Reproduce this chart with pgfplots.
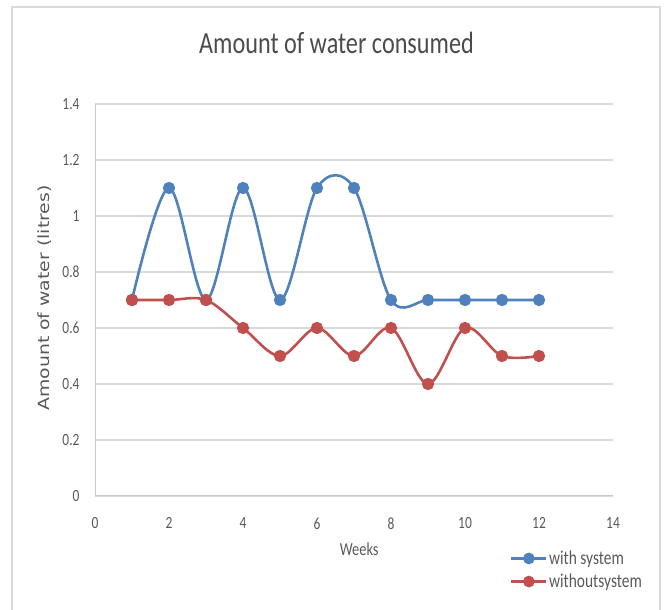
\documentclass[border=0pt]{standalone}
\usepackage{pgfplots}
\pgfplotsset{compat=1.18}
\usepackage{fontspec}
\setmainfont{Carlito}
\newfontfamily\ylabfont{DejaVu Sans}
\definecolor{blueS}{HTML}{4F81BD}
\definecolor{redS}{HTML}{C0504D}
\definecolor{txt}{HTML}{595959}
\definecolor{gridc}{HTML}{D9D9D9}
\newcommand{\vs}[1]{\scalebox{1}[1.27]{#1}}
\begin{document}
\begin{tikzpicture}[x=1bp,y=1bp]
\path[use as bounding box] (-95,-114) rectangle (569,496);
\draw[gridc, line width=1.2bp] (-83,-120) -- (-83,489) -- (565,489) -- (565,-120);
\begin{axis}[
  at={(0,0)}, anchor=south west,
  scale only axis, width=518bp, height=392bp,
  xmin=0, xmax=14, ymin=0, ymax=1.4,
  xtick={0,2,...,14}, ytick={0,0.2,...,1.4},
  yticklabels={\vs{0},\vs{0.2},\vs{0.4},\vs{0.6},\vs{0.8},\vs{1},\vs{1.2},\vs{1.4}},
  xticklabels={\vs{0},\vs{2},\vs{4},\vs{6},\vs{8},\vs{10},\vs{12},\vs{14}},
  axis x line*=bottom, axis y line*=left,
  axis line style={draw=gridc!80!gray, line width=1bp},
  ymajorgrids, grid style={gridc, line width=1.2bp},
  major tick length=0pt,
  tick label style={font=\fontsize{13.5}{15}\selectfont, text=txt},
  xticklabel style={anchor=north, yshift=-18bp},
  yticklabel style={anchor=east, xshift=-12bp},
  title={\fontsize{24.3}{28}\selectfont\vs{Amount of water consumed}},
  title style={text=txt!85!black, at={(0.4662,1)}, anchor=base, yshift=45bp},
  xlabel={\fontsize{14.5}{17}\selectfont\vs{Weeks}},
  xlabel style={text=txt, at={(0.51,0)}, anchor=center, yshift=-53bp},
  ylabel={\ylabfont\fontsize{15.5}{18}\selectfont\scalebox{1.22}[1]{Amount of water (litres)}},
  ylabel style={text=txt, at={(-0.0965,0.505)}, anchor=center},
  clip=false,
  legend style={at={(0.801,-0.137)}, anchor=north west, draw=none, fill=none,
    inner sep=0pt, font=\fontsize{15.5}{17}\selectfont, text=txt, row sep=6bp,
    /tikz/every even column/.append style={column sep=0pt},
    nodes={inner xsep=1.5bp, inner ysep=1bp}},
  legend cell align=left,
  legend image code/.code={\draw[#1, line width=2.5bp] (0bp,0bp) -- (35bp,0bp);
     \fill[#1] (17.5bp,0bp) circle (4.5bp);},
]
\addplot[blueS, line width=2.6bp, smooth, tension=0.55, mark=*, mark size=4.8bp, mark options={fill=blueS, draw=blueS}]
coordinates {(1,0.7)(2,1.1)(3,0.7)(4,1.1)(5,0.7)(6,1.1)(7,1.1)(8,0.7)(9,0.7)(10,0.7)(11,0.7)(12,0.7)};
\addlegendentry{\vs{with system}}
\addplot[redS, line width=2.6bp, smooth, tension=0.55, mark=*, mark size=4.8bp, mark options={fill=redS, draw=redS}]
coordinates {(1,0.7)(2,0.7)(3,0.7)(4,0.6)(5,0.5)(6,0.6)(7,0.5)(8,0.6)(9,0.4)(10,0.6)(11,0.5)(12,0.5)};
\addlegendentry{\vs{withoutsystem}}
\end{axis}
\end{tikzpicture}
\end{document}
